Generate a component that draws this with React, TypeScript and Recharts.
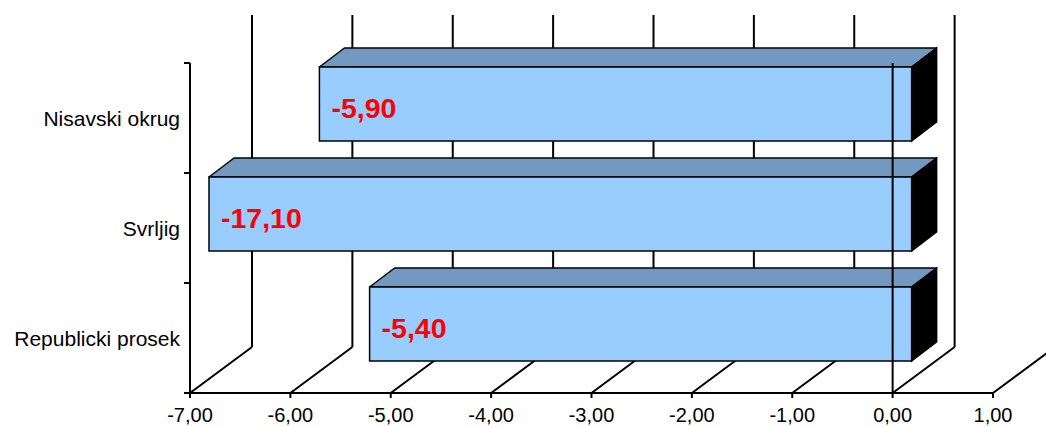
import React from "react"
import {
  Bar,
  BarChart,
  CartesianGrid,
  ReferenceLine,
  XAxis,
  YAxis,
} from "recharts"

const categories = ["Nisavski okrug", "Svrljig", "Republicki prosek"]
const values = [-5.9, -17.1, -5.4]
const xTicks = [-7, -6, -5, -4, -3, -2, -1, 0, 1]

const FONT = '"Liberation Sans", Arial, sans-serif'
// 3d depth of the whole floor, and where the bars sit inside it
const DEPTH_X = 62
const DEPTH_Y = 46
const BAR_FRONT_X = 19
const BAR_FRONT_Y = 14
const BAR_DEPTH_X = 25
const BAR_DEPTH_Y = 19

const fmt = (v: number) => v.toFixed(2).replace(".", ",")

// bars longer than the axis are cut at its minimum, like the original
const data = categories.map((name, i) => ({
  name,
  raw: values[i],
  value: Math.max(values[i], xTicks[0]),
}))

const Bar3D = (props: any) => {
  const { x, y, width, height, payload } = props
  const left = Math.min(x, x + width) + BAR_FRONT_X
  const right = Math.max(x, x + width) + BAR_FRONT_X
  const top = y - BAR_FRONT_Y
  const bottom = y + height - BAR_FRONT_Y
  const dx = BAR_DEPTH_X
  const dy = BAR_DEPTH_Y
  return (
    <g>
      <polygon
        points={`${left},${top} ${left + dx},${top - dy} ${right + dx},${top - dy} ${right},${top}`}
        fill="#7399c0"
        stroke="#000"
        strokeWidth={1.5}
        strokeLinejoin="round"
      />
      <polygon
        points={`${right},${top} ${right + dx},${top - dy} ${right + dx},${bottom - dy} ${right},${bottom}`}
        fill="#000"
        stroke="#000"
        strokeWidth={1.5}
      />
      <rect
        x={left}
        y={top}
        width={right - left}
        height={bottom - top}
        fill="#99ccff"
        stroke="#000"
        strokeWidth={1.5}
      />
      <text
        x={left + 12}
        y={top + (bottom - top) / 2 + 4}
        dominantBaseline="central"
        fill="#ff0000"
        fontFamily={FONT}
        fontWeight="bold"
        fontSize={28.5}
      >
        {fmt(payload.raw)}
      </text>
    </g>
  )
}

const GridLine = (props: any) => {
  const { x1, y1, y2 } = props
  return (
    <g key={`g-${x1}`}>
      <line
        x1={x1}
        y1={y2}
        x2={x1 + DEPTH_X}
        y2={y2 - DEPTH_Y}
        stroke="#000"
        strokeWidth={2}
      />
      <line
        x1={x1 + DEPTH_X}
        y1={y2 - DEPTH_Y}
        x2={x1 + DEPTH_X}
        y2={y1 - DEPTH_Y - 2}
        stroke="#000"
        strokeWidth={2}
      />
    </g>
  )
}

const XTick = (props: any) => {
  const { x, y, payload } = props
  return (
    <text
      x={x}
      y={y + 22}
      textAnchor="middle"
      fontFamily={FONT}
      fontSize={20}
      fill="#000"
    >
      {fmt(payload.value)}
    </text>
  )
}

const YTick = (props: any) => {
  const { x, y, payload } = props
  const half = payload.offset || 55
  const axisX = x + 6
  return (
    <g>
      <line x1={axisX - 6} y1={y - half} x2={axisX} y2={y - half} stroke="#000" strokeWidth={2} />
      <line x1={axisX - 6} y1={y + half} x2={axisX} y2={y + half} stroke="#000" strokeWidth={2} />
      <text
        x={axisX - 10}
        y={y}
        textAnchor="end"
        dominantBaseline="central"
        fontFamily={FONT}
        fontSize={21}
        fill="#000"
      >
        {payload.value}
      </text>
    </g>
  )
}

export default function App() {
  return (
    <div style={{ position: "absolute", left: 0, top: 0, background: "#fff" }}>
      <BarChart
        width={1046}
        height={427}
        data={data}
        layout="vertical"
        margin={{ top: 63, right: 53, bottom: 0, left: 0 }}
      >
        <CartesianGrid horizontal={false} vertical={GridLine} stroke="#000" />
        <XAxis
          type="number"
          domain={[xTicks[0], xTicks[xTicks.length - 1]]}
          ticks={xTicks}
          interval={0}
          height={34}
          axisLine={{ stroke: "#000", strokeWidth: 2 }}
          tickLine={{ stroke: "#000", strokeWidth: 2 }}
          tickSize={5}
          tick={<XTick />}
        />
        <YAxis
          type="category"
          dataKey="name"
          width={190}
          axisLine={{ stroke: "#000", strokeWidth: 2 }}
          tickLine={false}
          tickSize={6}
          tickMargin={0}
          tick={<YTick />}
        />
        <Bar
          dataKey="value"
          barSize={74}
          shape={<Bar3D />}
          isAnimationActive={false}
        />
        <ReferenceLine x={0} stroke="#000" strokeWidth={2} />
      </BarChart>
    </div>
  )
}
